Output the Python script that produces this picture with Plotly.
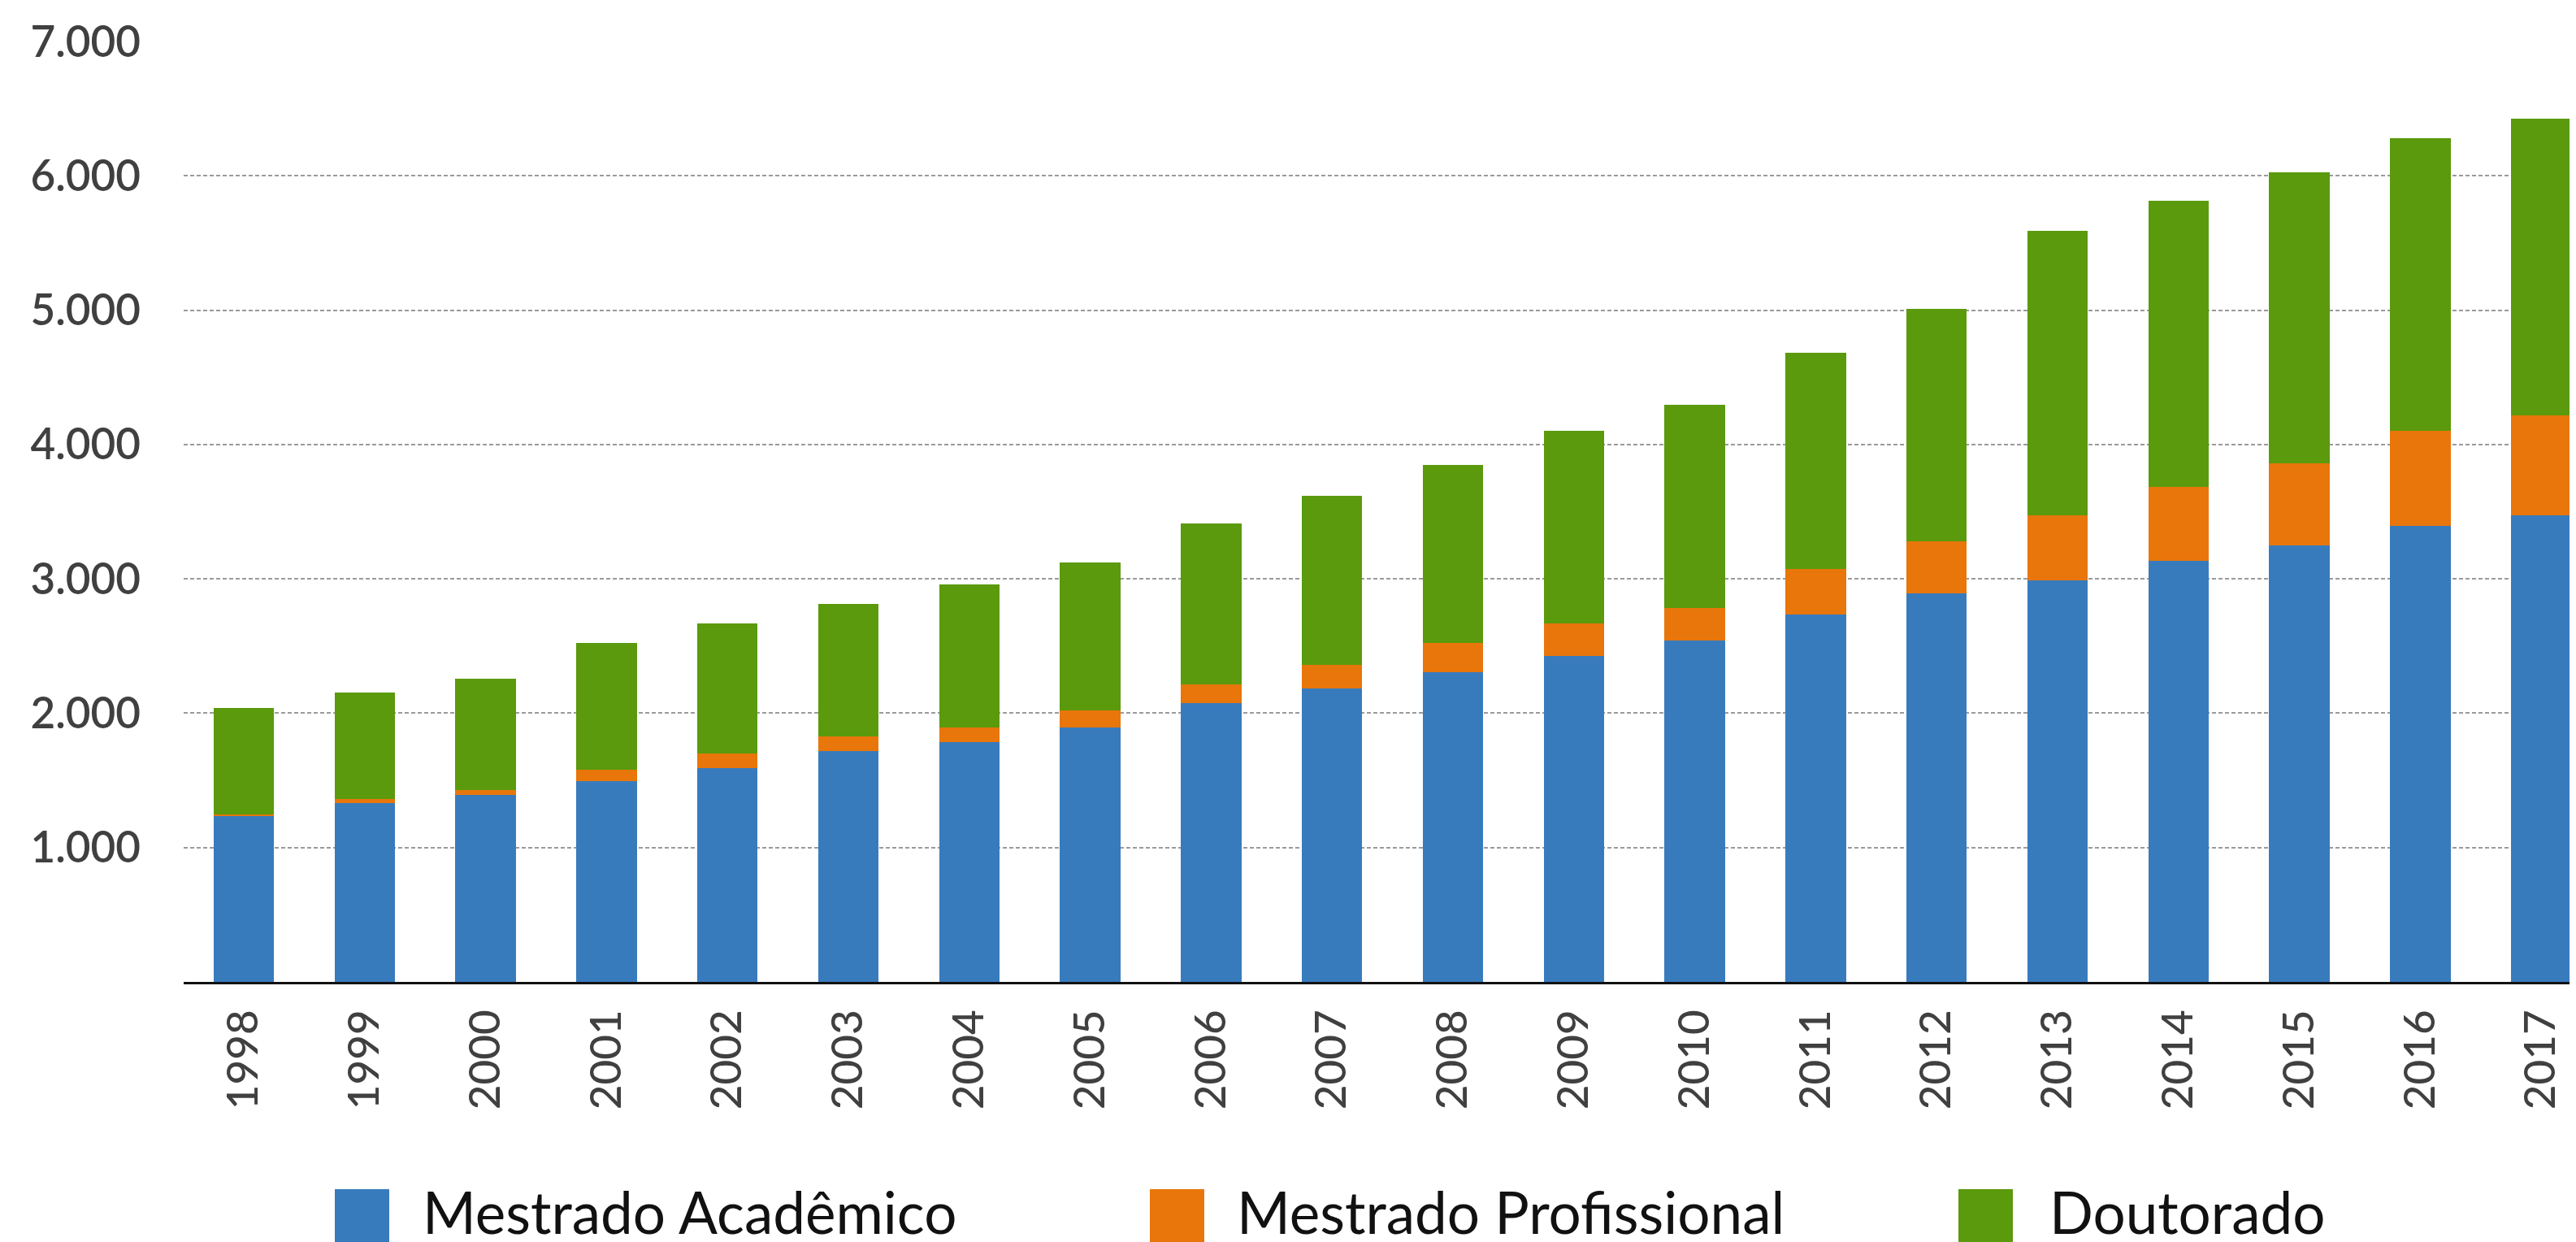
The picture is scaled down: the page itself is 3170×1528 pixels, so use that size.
import plotly.graph_objects as go

years = [str(y) for y in range(1998, 2018)]
series_names = ["Mestrado Acadêmico", "Mestrado Profissional", "Doutorado"]
mestrado_academico = [1236, 1333, 1394, 1492, 1590, 1721, 1782, 1896, 2073, 2184,
                      2307, 2425, 2541, 2734, 2890, 2988, 3134, 3248, 3394, 3475]
mestrado_profissional = [12, 31, 36, 85, 112, 108, 114, 127, 144, 174,
                         217, 245, 242, 341, 387, 487, 550, 611, 707, 740]
doutorado = [792, 792, 824, 947, 967, 984, 1062, 1100, 1195, 1260,
             1325, 1433, 1512, 1609, 1734, 2117, 2132, 2168, 2180, 2212]
y_tickvals = [1000, 2000, 3000, 4000, 5000, 6000, 7000]
y_ticktext = ["1.000", "2.000", "3.000", "4.000", "5.000", "6.000", "7.000"]

colors = ["#387bbd", "#e8760b", "#5a9a0c"]
values = [mestrado_academico, mestrado_profissional, doutorado]

# page has an 8px body margin; compensate so the plot lands where it should
OFF = 8
W, H = 3170, 1528
ML, MR, MT, MB = 226 - OFF, OFF, 51 - OFF, 320 + OFF
PW = W - ML - MR
PH = H - MT - MB

def px_to_paper_x(px):
    return (px - OFF - ML) / PW

def px_to_paper_y(py):
    return (H - MB - (py - OFF)) / PH

fig = go.Figure()
for name, vals, col in zip(series_names, values, colors):
    fig.add_trace(go.Bar(x=years, y=vals, name=name, marker=dict(color=col, line=dict(width=0)),
                         width=0.5, showlegend=False))

fam = "Lato, 'Open Sans', sans-serif"

fig.update_layout(
    barmode="stack",
    width=W, height=H,
    margin=dict(l=ML, r=MR, t=MT, b=MB, pad=0),
    paper_bgcolor="white", plot_bgcolor="white",
    xaxis=dict(
        type="category", range=[-0.497, 19.288],
        showgrid=False, showline=True, linecolor="#111111", linewidth=3,
        tickangle=-90, tickfont=dict(family=fam, size=53, color="#404040", weight=500),
        ticks="", ticklabelstandoff=10,
        fixedrange=True,
    ),
    yaxis=dict(
        range=[0, 7000], tickvals=y_tickvals, ticktext=y_ticktext,
        showgrid=True, gridcolor="#9a9a9a", gridwidth=2, griddash="5px,3px",
        zeroline=False, showline=False, ticks="",
        tickfont=dict(family=fam, size=53, color="#404040", weight=600),
        ticklabelstandoff=52, fixedrange=True,
    ),
)

# custom legend (large squares + text)
legend_sq_left = [412, 1415, 2410]
legend_txt_left = [518, 1520, 2520]
for name, col, sx, tx in zip(series_names, colors, legend_sq_left, legend_txt_left):
    fig.add_shape(type="rect", xref="paper", yref="paper",
                  x0=px_to_paper_x(sx), x1=px_to_paper_x(sx + 67),
                  y0=px_to_paper_y(1463), y1=px_to_paper_y(1535),
                  fillcolor=col, line=dict(width=0))
    fig.add_annotation(xref="paper", yref="paper", x=px_to_paper_x(tx), y=px_to_paper_y(1490),
                       xanchor="left", yanchor="middle", showarrow=False, text=name,
                       font=dict(family=fam, size=71, color="#111111", weight=400))

fig.write_html("out.html")
